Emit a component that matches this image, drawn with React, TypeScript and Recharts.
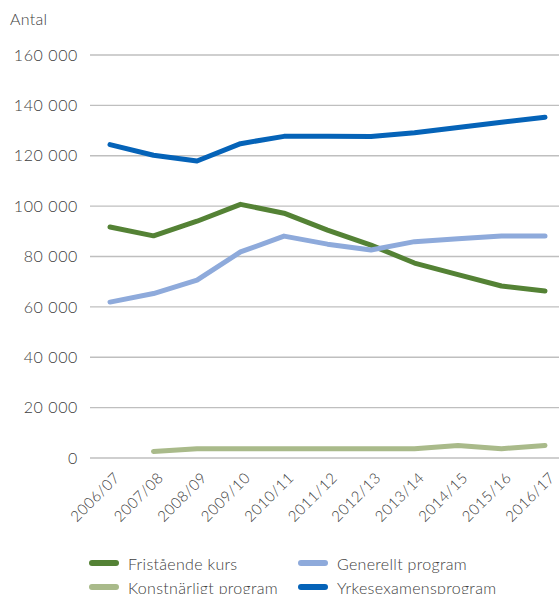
import React from 'react'
import { LineChart, Line, XAxis, YAxis, CartesianGrid } from 'recharts'

const years = ['2006/07', '2007/08', '2008/09', '2009/10', '2010/11', '2011/12', '2012/13', '2013/14', '2014/15', '2015/16', '2016/17']
const fristaende = [91700, 88200, 94000, 100700, 97200, 90500, 84500, 77400, 72800, 68300, 66300]
const generellt = [61900, 65300, 70600, 81800, 88100, 84900, 82600, 85900, 87000, 88100, 88100]
const konstnarligt = [null, 2600, 3700, 3700, 3700, 3700, 3700, 3700, 5000, 3700, 5000]
const yrkes = [124400, 120200, 117900, 124800, 127700, 127700, 127600, 129100, 131200, 133300, 135300]
const yTicks = [0, 20000, 40000, 60000, 80000, 100000, 120000, 140000, 160000]

const series = [
	{ key: 'fristaende', name: 'Fristående kurs', color: '#548235' },
	{ key: 'generellt', name: 'Generellt program', color: '#8eaadb' },
	{ key: 'konstnarligt', name: 'Konstnärligt program', color: '#a9ba8a' },
	{ key: 'yrkes', name: 'Yrkesexamensprogram', color: '#0563b8' },
]

const data = years.map((year, i) => ({
	year,
	fristaende: fristaende[i],
	generellt: generellt[i],
	konstnarligt: konstnarligt[i],
	yrkes: yrkes[i],
}))

const FONT = 'Lato, "Open Sans", sans-serif'
const TEXT = '#404040'

const fmt = (v: number) => String(v).replace(/\B(?=(\d{3})+(?!\d))/g, '\u00a0')

const XTick = ({ x, y, payload }: any) => (
	<g transform={`translate(${x + 7},${y + 9}) rotate(-45)`}>
		<text x={0} y={0} textAnchor="end" dy="0.35em" fill={TEXT} fontSize={15} letterSpacing={0.5} fontFamily={FONT} fontWeight={300}>
			{payload.value}
		</text>
	</g>
)

export default function App() {
	return (
		<div style={{ position: 'absolute', left: 0, top: 0, width: 559, height: 594, background: '#fff', overflow: 'hidden' }}>
			<div style={{ position: 'absolute', left: 10, top: 9, fontFamily: FONT, fontWeight: 300, fontSize: 16, letterSpacing: 0.3, color: TEXT }}>Antal</div>
			<LineChart width={559} height={594} data={data} margin={{ top: 55, right: 0, bottom: 56, left: 0 }}>
				<CartesianGrid vertical={false} stroke="#bfbfbf" strokeWidth={1.3} />
				<XAxis dataKey="year" axisLine={false} tickLine={false} interval={0} padding={{ left: 20, right: 14 }} height={80} tick={<XTick />} />
				<YAxis
					width={90}
					domain={[0, 160000]}
					ticks={yTicks}
					axisLine={false}
					tickLine={false}
					tickMargin={6}
					tickFormatter={fmt}
					tick={{ fill: TEXT, fontSize: 16, letterSpacing: 0.6, fontFamily: FONT, fontWeight: 300 }}
				/>
				{series.map((s) => (
					<Line
						key={s.key}
						dataKey={s.key}
						name={s.name}
						stroke={s.color}
						strokeWidth={5}
						strokeLinecap="round"
						strokeLinejoin="round"
						dot={false}
						activeDot={false}
						isAnimationActive={false}
					/>
				))}
			</LineChart>
			<div
				style={{
					position: 'absolute',
					left: 89,
					top: 554,
					display: 'grid',
					gridTemplateColumns: '209px 250px',
					rowGap: 6,
					fontFamily: FONT,
					fontWeight: 300,
					fontSize: 16,
					letterSpacing: 0.3,
					color: TEXT,
				}}
			>
				{series.map((s) => (
					<div key={s.key} style={{ display: 'flex', alignItems: 'center', height: 18, whiteSpace: 'nowrap' }}>
						<span style={{ display: 'inline-block', width: 30, height: 6, borderRadius: 3, background: s.color, marginRight: 9 }} />
						{s.name}
					</div>
				))}
			</div>
		</div>
	)
}
